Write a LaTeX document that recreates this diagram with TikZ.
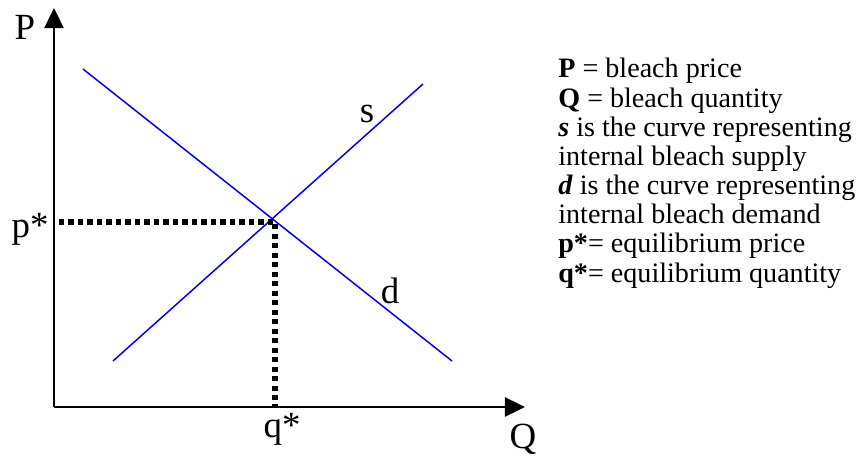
\documentclass[tikz,border=0pt]{standalone}
\usepackage{fontspec}
\setmainfont{Liberation Serif}
\usetikzlibrary{arrows.meta}

\begin{document}
\begin{tikzpicture}[x=0.02cm, y=-0.02cm, >={Triangle[length=11.5pt,width=11pt]}, font=\fontsize{21}{24}\selectfont,
	  axis/.style={->, line width=1.1pt},
	  curve/.style={blue, line width=0.85pt},
	  guide/.style={line width=3.2pt, dash pattern=on 3pt off 2.4pt},
	  lbl/.style={anchor=base, inner sep=0pt}]
	  \useasboundingbox (0,0) rectangle (866,456);
	  \coordinate (O) at (54,407);
	  \coordinate (ptop) at (54,8);
	  \coordinate (qend) at (525,407);
	  \draw[axis] (O) -- (ptop);
	  \draw[axis] (O) -- (qend);
	  \node[lbl] (P) at (25,40) {P};
	  \node[lbl] (Q) at (523,448) {Q};
	  % supply and demand
	  \coordinate (d0) at (83,69);
	  \coordinate (d1) at (452,361);
	  \coordinate (s0) at (113,361);
	  \coordinate (s1) at (423,84);
	  \draw[curve] (d0) -- (d1);
	  \draw[curve] (s0) -- (s1);
	  \node[lbl] (s) at (367,123) {s};
	  \node[lbl] (d) at (390,303) {d};
	  % equilibrium
	  \coordinate (eq) at (275,222);
	  \coordinate (pstar) at (59,222);
	  \coordinate (qstar) at (275,407);
	  \draw[guide] (pstar) -- (eq) -- (qstar);
	  \node[lbl] (pl) at (30,237) {p*};
	  \node[lbl] (ql) at (282,437) {q*};
	  \node[anchor=north west, inner sep=0pt, align=left, font=\fontsize{16}{16.6}\selectfont] (key) at (558,58)
	    {\textbf{P} = bleach price\\
	     \textbf{Q} = bleach quantity\\
	     \textbf{\textit{s}} is the curve representing\\
	     internal bleach supply\\
	     \textbf{\textit{d}} is the curve representing\\
	     internal bleach demand\\
	     \textbf{p*}= equilibrium price\\
	     \textbf{q*}= equilibrium quantity};
	\end{tikzpicture}
\end{document}
